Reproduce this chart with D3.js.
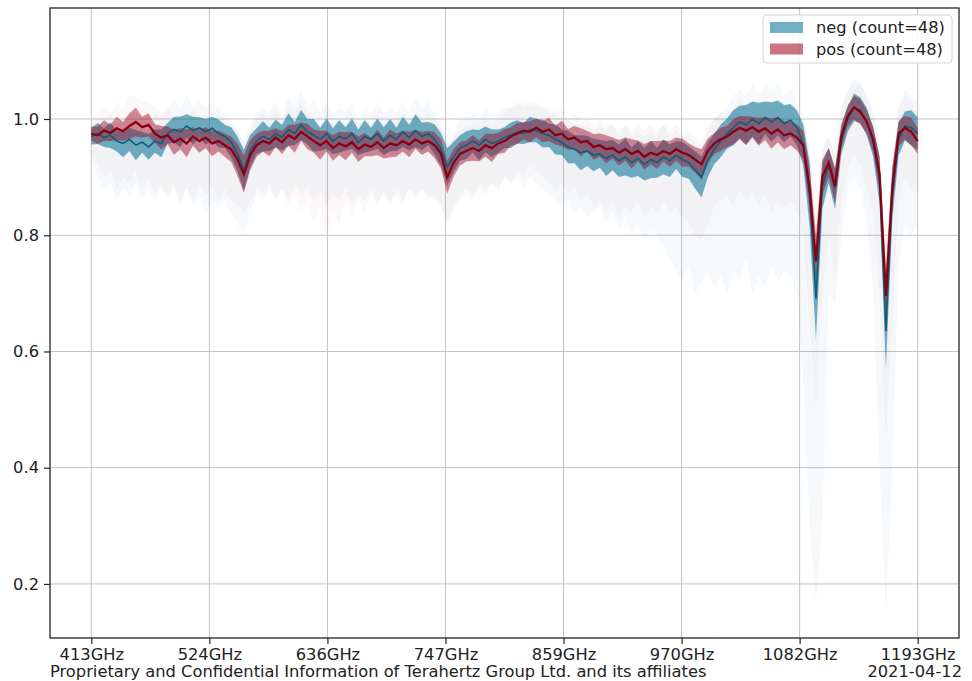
<!DOCTYPE html>
<html>
<head>
<meta charset="utf-8">
<script src="https://cdn.jsdelivr.net/npm/d3@7"></script>
<style>
  body { margin: 0; background: #fff; }
  svg text { font-family: "DejaVu Sans", sans-serif; fill: #222; }
</style>
</head>
<body>
<div id="chart"></div>
<script>
// frequency grid, 6 GHz steps from 413 to 1193 GHz
var freqs = d3.range(131).map(function (i) { return 413 + 6 * i; });

var tickLabels = ["413GHz", "524GHz", "636GHz", "747GHz", "859GHz", "970GHz", "1082GHz", "1193GHz"];
var yTicks = [0.2, 0.4, 0.6, 0.8, 1.0];

var posMean = [
  0.975, 0.972, 0.980, 0.976, 0.984, 0.979, 0.988, 0.995, 0.986, 0.990,
  0.975, 0.968, 0.972, 0.960, 0.966, 0.958, 0.970, 0.962, 0.968, 0.958,
  0.962, 0.955, 0.948, 0.930, 0.905, 0.938, 0.955, 0.962, 0.958, 0.968,
  0.960, 0.972, 0.966, 0.978, 0.970, 0.962, 0.955, 0.962, 0.950, 0.958,
  0.953, 0.960, 0.948, 0.956, 0.952, 0.960, 0.950, 0.958, 0.955, 0.962,
  0.956, 0.965, 0.958, 0.962, 0.955, 0.940, 0.900, 0.925, 0.940, 0.945,
  0.950, 0.945, 0.955, 0.950, 0.958, 0.962, 0.970, 0.975, 0.980, 0.978,
  0.985, 0.978, 0.982, 0.972, 0.975, 0.965, 0.968, 0.960, 0.962, 0.952,
  0.955, 0.948, 0.950, 0.942, 0.948, 0.940, 0.945, 0.935, 0.942, 0.938,
  0.945, 0.940, 0.948, 0.942, 0.938, 0.930, 0.922, 0.945, 0.958, 0.965,
  0.970, 0.978, 0.985, 0.980, 0.986, 0.978, 0.984, 0.975, 0.982, 0.972,
  0.975, 0.968, 0.955, 0.880, 0.755, 0.900, 0.925, 0.885, 0.970, 1.005,
  1.020, 1.012, 0.995, 0.965, 0.905, 0.695, 0.880, 0.975, 0.985, 0.978,
  0.962
];
var posSd = [
  .012, .015, .018, .014, .020, .016, .022, .025, .018, .020,
  .016, .020, .015, .022, .018, .024, .016, .020, .018, .022,
  .018, .020, .022, .028, .032, .026, .020, .018, .022, .016,
  .020, .018, .024, .016, .022, .020, .025, .018, .022, .020,
  .024, .018, .022, .020, .016, .022, .018, .024, .020, .018,
  .022, .016, .020, .018, .022, .025, .028, .024, .020, .018,
  .022, .018, .020, .024, .018, .020, .016, .018, .015, .018,
  .016, .018, .020, .016, .022, .018, .020, .024, .018, .022,
  .020, .024, .018, .022, .020, .025, .018, .022, .020, .024,
  .018, .022, .020, .024, .020, .022, .026, .022, .018, .020,
  .018, .022, .020, .025, .018, .024, .020, .026, .022, .024,
  .020, .022, .025, .035, .045, .030, .025, .030, .020, .018,
  .020, .022, .020, .022, .030, .050, .035, .022, .020, .024,
  .022
];
var posHi = [
  1.00, 1.01, 1.02, 1.01, 1.03, 1.02, 1.04, 1.04, 1.03, 1.03,
  1.02, 1.01, 1.02, 1.00, 1.01, 1.00, 1.02, 1.00, 1.01, 1.00,
  1.01, 1.00, 0.99, 0.98, 0.96, 0.98, 1.00, 1.01, 1.00, 1.02,
  1.00, 1.02, 1.01, 1.03, 1.01, 1.00, 0.99, 1.01, 0.99, 1.00,
  0.99, 1.01, 0.99, 1.00, 0.99, 1.01, 0.99, 1.00, 1.00, 1.01,
  1.00, 1.01, 1.00, 1.01, 1.00, 0.99, 0.95, 0.97, 0.98, 0.99,
  0.99, 0.99, 1.00, 0.99, 1.00, 1.01, 1.02, 1.02, 1.03, 1.02,
  1.03, 1.02, 1.02, 1.01, 1.02, 1.00, 1.01, 1.00, 1.00, 0.99,
  1.00, 0.99, 0.99, 0.98, 0.99, 0.98, 0.99, 0.98, 0.99, 0.98,
  0.99, 0.98, 0.99, 0.98, 0.98, 0.97, 0.96, 0.99, 1.00, 1.01,
  1.01, 1.02, 1.03, 1.02, 1.03, 1.02, 1.03, 1.02, 1.03, 1.02,
  1.02, 1.01, 1.00, 0.94, 0.84, 0.95, 0.97, 0.94, 1.02, 1.05,
  1.06, 1.06, 1.04, 1.01, 0.96, 0.78, 0.93, 1.02, 1.04, 1.03,
  1.01
];
var posLo = [
  0.94, 0.92, 0.90, 0.91, 0.88, 0.90, 0.89, 0.91, 0.88, 0.90,
  0.87, 0.89, 0.86, 0.88, 0.85, 0.88, 0.86, 0.89, 0.87, 0.88,
  0.86, 0.88, 0.86, 0.85, 0.84, 0.86, 0.88, 0.87, 0.89, 0.86,
  0.88, 0.85, 0.87, 0.84, 0.86, 0.82, 0.85, 0.80, 0.84, 0.82,
  0.86, 0.83, 0.86, 0.84, 0.87, 0.85, 0.88, 0.86, 0.87, 0.85,
  0.88, 0.86, 0.88, 0.87, 0.86, 0.85, 0.82, 0.84, 0.86, 0.87,
  0.86, 0.88, 0.87, 0.89, 0.88, 0.90, 0.89, 0.91, 0.90, 0.92,
  0.91, 0.90, 0.89, 0.88, 0.89, 0.87, 0.88, 0.86, 0.87, 0.85,
  0.86, 0.84, 0.86, 0.83, 0.85, 0.84, 0.86, 0.83, 0.85, 0.84,
  0.86, 0.84, 0.85, 0.83, 0.82, 0.80, 0.79, 0.82, 0.85, 0.86,
  0.87, 0.85, 0.88, 0.86, 0.88, 0.85, 0.87, 0.84, 0.86, 0.85,
  0.86, 0.84, 0.80, 0.65, 0.50, 0.70, 0.80, 0.72, 0.86, 0.92,
  0.94, 0.92, 0.88, 0.84, 0.70, 0.45, 0.65, 0.86, 0.90, 0.88,
  0.87
];

var negMean = [
  0.970, 0.975, 0.968, 0.972, 0.962, 0.958, 0.965, 0.955, 0.960, 0.952,
  0.962, 0.958, 0.975, 0.982, 0.978, 0.988, 0.980, 0.985, 0.978, 0.984,
  0.975, 0.970, 0.960, 0.940, 0.912, 0.945, 0.962, 0.970, 0.965, 0.975,
  0.968, 0.982, 0.975, 0.990, 0.978, 0.972, 0.965, 0.975, 0.962, 0.970,
  0.966, 0.975, 0.960, 0.970, 0.965, 0.975, 0.962, 0.972, 0.965, 0.978,
  0.968, 0.980, 0.970, 0.975, 0.965, 0.948, 0.918, 0.935, 0.950, 0.955,
  0.962, 0.955, 0.965, 0.958, 0.962, 0.968, 0.972, 0.978, 0.975, 0.982,
  0.980, 0.975, 0.972, 0.965, 0.960, 0.952, 0.948, 0.942, 0.945, 0.938,
  0.940, 0.932, 0.938, 0.928, 0.935, 0.925, 0.932, 0.922, 0.930, 0.925,
  0.935, 0.928, 0.938, 0.930, 0.925, 0.912, 0.900, 0.930, 0.948, 0.962,
  0.975, 0.985, 0.995, 0.990, 1.000, 0.992, 1.002, 0.995, 1.002, 0.992,
  0.998, 0.985, 0.955, 0.870, 0.690, 0.885, 0.920, 0.880, 0.965, 1.000,
  1.020, 1.015, 0.995, 0.960, 0.895, 0.635, 0.870, 0.965, 0.988, 0.985,
  0.975
];
var negSd = [
  .014, .018, .016, .022, .018, .024, .020, .026, .018, .022,
  .020, .024, .018, .022, .026, .020, .024, .018, .022, .020,
  .024, .020, .026, .030, .035, .028, .022, .026, .020, .024,
  .022, .028, .020, .026, .022, .028, .020, .026, .022, .028,
  .020, .026, .022, .028, .020, .026, .024, .028, .020, .026,
  .022, .028, .024, .020, .026, .028, .032, .026, .022, .024,
  .020, .026, .022, .024, .020, .018, .022, .020, .018, .022,
  .020, .024, .020, .026, .022, .028, .024, .030, .026, .028,
  .024, .030, .026, .028, .032, .026, .030, .028, .032, .026,
  .030, .028, .024, .030, .028, .032, .035, .030, .026, .028,
  .026, .030, .028, .034, .030, .036, .028, .034, .030, .032,
  .028, .030, .035, .055, .070, .040, .030, .035, .025, .022,
  .024, .022, .024, .025, .040, .065, .045, .028, .025, .030,
  .028
];
var negHi = [
  0.99, 1.00, 1.00, 1.01, 0.99, 1.00, 1.01, 0.99, 1.00, 0.99,
  1.01, 1.00, 1.02, 1.03, 1.02, 1.04, 1.02, 1.03, 1.02, 1.03,
  1.02, 1.01, 1.00, 0.98, 0.96, 0.99, 1.01, 1.02, 1.01, 1.03,
  1.01, 1.04, 1.02, 1.05, 1.02, 1.03, 1.01, 1.03, 1.01, 1.02,
  1.01, 1.03, 1.00, 1.02, 1.01, 1.03, 1.01, 1.02, 1.01, 1.03,
  1.01, 1.04, 1.02, 1.03, 1.01, 0.99, 0.96, 0.98, 1.00, 1.00,
  1.01, 1.00, 1.02, 1.00, 1.01, 1.02, 1.02, 1.03, 1.02, 1.03,
  1.02, 1.02, 1.01, 1.01, 1.00, 1.00, 0.99, 0.99, 0.99, 0.98,
  0.99, 0.98, 0.99, 0.97, 0.99, 0.97, 0.98, 0.97, 0.98, 0.97,
  0.99, 0.97, 0.98, 0.97, 0.97, 0.96, 0.95, 0.98, 1.00, 1.01,
  1.02, 1.04, 1.05, 1.04, 1.06, 1.04, 1.06, 1.05, 1.06, 1.04,
  1.05, 1.03, 1.00, 0.95, 0.82, 0.95, 0.97, 0.94, 1.02, 1.05,
  1.07, 1.06, 1.04, 1.01, 0.95, 0.74, 0.92, 1.02, 1.05, 1.04,
  1.03
];
var negLo = [
  0.93, 0.90, 0.88, 0.89, 0.86, 0.88, 0.87, 0.89, 0.86, 0.88,
  0.86, 0.88, 0.87, 0.89, 0.86, 0.88, 0.85, 0.87, 0.84, 0.86,
  0.85, 0.86, 0.84, 0.82, 0.80, 0.84, 0.87, 0.86, 0.88, 0.86,
  0.88, 0.86, 0.89, 0.87, 0.88, 0.86, 0.88, 0.85, 0.87, 0.86,
  0.88, 0.85, 0.87, 0.86, 0.88, 0.86, 0.87, 0.85, 0.88, 0.86,
  0.88, 0.87, 0.88, 0.86, 0.87, 0.85, 0.82, 0.85, 0.87, 0.88,
  0.87, 0.89, 0.88, 0.89, 0.88, 0.90, 0.89, 0.90, 0.88, 0.90,
  0.89, 0.88, 0.87, 0.86, 0.85, 0.86, 0.84, 0.85, 0.83, 0.84,
  0.85, 0.82, 0.84, 0.81, 0.83, 0.80, 0.82, 0.79, 0.81, 0.80,
  0.78, 0.76, 0.74, 0.72, 0.75, 0.70, 0.72, 0.74, 0.71, 0.73,
  0.70, 0.74, 0.72, 0.76, 0.70, 0.73, 0.71, 0.75, 0.72, 0.74,
  0.73, 0.70, 0.55, 0.30, 0.17, 0.30, 0.70, 0.68, 0.80, 0.88,
  0.90, 0.88, 0.82, 0.70, 0.40, 0.15, 0.40, 0.75, 0.82, 0.80,
  0.82
];

var width = 972, height = 681;
var plot = { left: 50, right: 959, top: 8, bottom: 638 };
var fontSize = 16.3;

var svg = d3.select("#chart").append("svg")
    .attr("width", width)
    .attr("height", height);

var x = d3.scaleLinear().domain([374, 1232]).range([plot.left, plot.right]);
var y = d3.scaleLinear().domain([0.107, 1.191]).range([plot.bottom, plot.top]);

var xTickVals = tickLabels.map(function (d, k) { return 413 + k * 780 / 7; });

// grid
var grid = svg.append("g").attr("stroke", "#c4c4c4").attr("stroke-width", 1);
xTickVals.forEach(function (v) {
    grid.append("line").attr("x1", x(v)).attr("x2", x(v))
        .attr("y1", plot.top).attr("y2", plot.bottom);
});
yTicks.forEach(function (v) {
    grid.append("line").attr("x1", plot.left).attr("x2", plot.right)
        .attr("y1", y(v)).attr("y2", y(v));
});

svg.append("clipPath").attr("id", "clip")
    .append("rect")
    .attr("x", plot.left).attr("y", plot.top)
    .attr("width", plot.right - plot.left).attr("height", plot.bottom - plot.top);

var g = svg.append("g").attr("clip-path", "url(#clip)");

function band(lo, hi) {
    return d3.area()
        .x(function (d, i) { return x(freqs[i]); })
        .y0(function (d, i) { return y(lo(i)); })
        .y1(function (d, i) { return y(hi(i)); });
}

var negColor = "#12799b", posColor = "#a0001a";

// min / max envelopes
g.append("path").datum(freqs)
    .attr("d", band(function (i) { return negLo[i]; }, function (i) { return negHi[i]; }))
    .attr("fill", negColor).attr("fill-opacity", 0.045);
g.append("path").datum(freqs)
    .attr("d", band(function (i) { return posLo[i]; }, function (i) { return posHi[i]; }))
    .attr("fill", posColor).attr("fill-opacity", 0.03);

// std bands
g.append("path").datum(freqs)
    .attr("d", band(function (i) { return negMean[i] - negSd[i]; }, function (i) { return negMean[i] + negSd[i]; }))
    .attr("fill", negColor).attr("fill-opacity", 0.6);
g.append("path").datum(freqs)
    .attr("d", band(function (i) { return posMean[i] - posSd[i]; }, function (i) { return posMean[i] + posSd[i]; }))
    .attr("fill", posColor).attr("fill-opacity", 0.45);

var line = function (arr) {
    return d3.line()
        .x(function (d, i) { return x(freqs[i]); })
        .y(function (d) { return y(d); })(arr);
};
g.append("path").attr("d", line(negMean))
    .attr("fill", "none").attr("stroke", "#0d5e79").attr("stroke-width", 1.6);
g.append("path").attr("d", line(posMean))
    .attr("fill", "none").attr("stroke", "#8a0012").attr("stroke-width", 2.3);

// axes
var xAxis = d3.axisBottom(x).tickValues(xTickVals)
    .tickFormat(function (d, k) { return tickLabels[k]; })
    .tickSize(6).tickPadding(4);
var yAxis = d3.axisLeft(y).tickValues(yTicks)
    .tickFormat(d3.format(".1f"))
    .tickSize(6).tickPadding(5);

var gx = svg.append("g").attr("transform", "translate(0," + plot.bottom + ")").call(xAxis);
var gy = svg.append("g").attr("transform", "translate(" + plot.left + ",0)").call(yAxis);
[gx, gy].forEach(function (a) {
    a.select(".domain").remove();
    a.selectAll(".tick line").attr("stroke", "#222").attr("stroke-width", 1.2);
    a.selectAll(".tick text").attr("font-size", fontSize).attr("fill", "#222")
        .style("font-family", "DejaVu Sans, sans-serif");
});

svg.append("rect")
    .attr("x", plot.left).attr("y", plot.top)
    .attr("width", plot.right - plot.left).attr("height", plot.bottom - plot.top)
    .attr("fill", "none").attr("stroke", "#222").attr("stroke-width", 1.3);

// legend
var legendItems = [
    { label: "neg (count=48)", color: negColor, op: 0.6 },
    { label: "pos (count=48)", color: posColor, op: 0.55 }
];
var lg = svg.append("g");
lg.append("rect").attr("x", 763).attr("y", 15).attr("width", 189).attr("height", 48)
    .attr("rx", 4).attr("fill", "#fff").attr("fill-opacity", 0.85)
    .attr("stroke", "#d4d4d4");
legendItems.forEach(function (d, k) {
    lg.append("rect").attr("x", 770).attr("y", 22 + k * 21.5)
        .attr("width", 33).attr("height", 11)
        .attr("fill", d.color).attr("fill-opacity", d.op);
    lg.append("text").attr("x", 816).attr("y", 33 + k * 21.5)
        .attr("font-size", fontSize).text(d.label);
});

// footer
svg.append("text").attr("x", 50).attr("y", 677).attr("font-size", fontSize)
    .text("Proprietary and Confidential Information of Terahertz Group Ltd. and its affiliates");
svg.append("text").attr("x", 962).attr("y", 677).attr("font-size", fontSize)
    .attr("text-anchor", "end").text("2021-04-12");
</script>
</body>
</html>
